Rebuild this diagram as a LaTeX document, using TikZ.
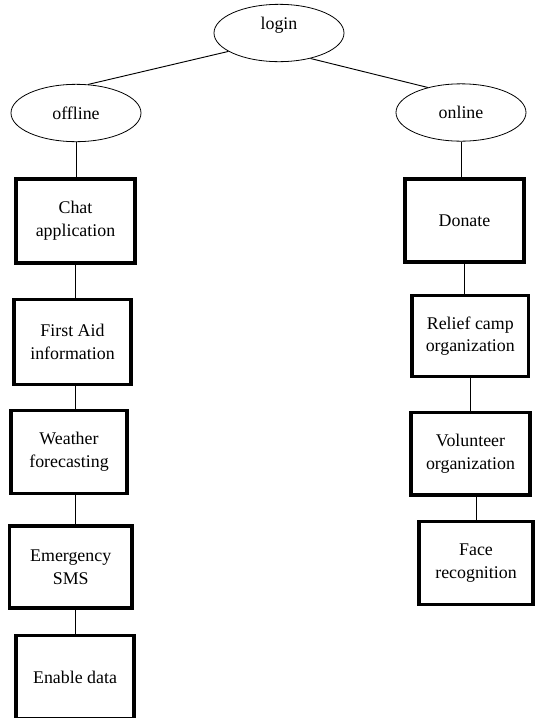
\documentclass[tikz,border=0pt]{standalone}
\usepackage{fontspec}
\setmainfont{Liberation Serif}
\usetikzlibrary{shapes.geometric}
\begin{document}
\begin{tikzpicture}[x=0.75pt, y=-0.75pt, line width=0.7pt, font=\fontsize{13.4}{17}\selectfont,
	main/.style = {draw, ellipse, line width=0.6pt, inner sep=0pt, minimum width=97.5pt, minimum height=43pt},
	box/.style = {draw, rectangle, line width=2.6pt, align=center, minimum width=88pt, minimum height=62pt}]
	\useasboundingbox (0,0) rectangle (536,718);
	\node[main] (L) at (279,33) {\raisebox{15pt}{login}};
	\node[main] (F) at (76,113) {offline};
	\node[main] (N) at (461,112.5) {online};
	% offline side
	\node[box, minimum width=89pt, minimum height=63pt] (A) at (75.5,221) {Chat\\application};
	\node[box, minimum height=64pt] (B) at (72.5,342) {First Aid\\information};
	\node[box, minimum width=87pt] (C) at (69,452) {Weather\\forecasting};
	\node[box, minimum width=92pt, minimum height=61.5pt] (D) at (70.7,567) {Emergency\\SMS};
	\node[box, minimum width=88.5pt] (E) at (75,677) {Enable data};
	% online side
	\node[box, minimum width=89pt] (P) at (464.5,220.5) {Donate};
	\node[box, minimum width=87.5pt, minimum height=61pt] (Q) at (470.3,336) {Relief camp\\organization};
	\node[box, minimum width=89pt] (R) at (470.5,453.7) {Volunteer\\organization};
	\node[box, minimum width=85.5pt] (S) at (476,563) {Face\\recognition};
	\draw (L.200) -- (F.67);
	\draw (L.321) -- (N.143);
	\draw (F) -- (F |- A.north);
	\draw (A) -- (A |- B.north);
	\draw (E |- B.south) -- (E |- C.north);
	\draw (E |- C.south) -- (E |- D.north);
	\draw (E |- D.south) -- (E);
	\draw (N) -- (N |- P.north);
	\draw (P) -- (P |- Q.north);
	\draw (Q) -- (Q |- R.north);
	\draw (S |- R.south) -- (S);
\end{tikzpicture}
\end{document}
